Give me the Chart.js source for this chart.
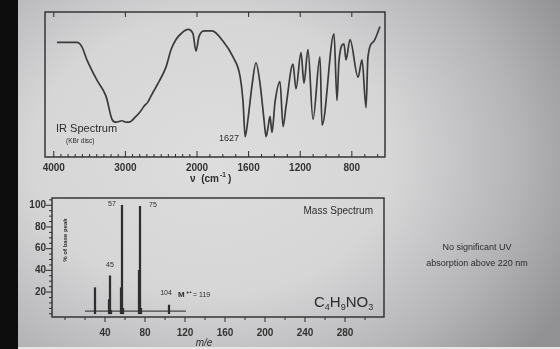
<!DOCTYPE html>
<html>
<head>
<meta charset="utf-8">
<script src="https://cdn.jsdelivr.net/npm/chart.js@4.4.1/dist/chart.umd.min.js"></script>
<style>
  html, body { margin: 0; padding: 0; }
  body {
    width: 560px; height: 349px; overflow: hidden; position: relative;
    background: radial-gradient(ellipse 72% 88% at 38% 45%, #dddddd 0%, #d6d6d7 45%, #b5b4b7 76%, #929294 100%);
    font-family: 'Liberation Sans', Arial, sans-serif;
  }
  #edge { position: absolute; left: 0; top: 0; width: 18px; height: 349px; background: #0d0d0d; }
  #foot { position: absolute; left: 18px; top: 347px; width: 542px; height: 2px; background: #e6e6e6; }
  #irWrap { position: absolute; left: 0; top: 0; width: 400px; height: 190px; filter: blur(0.3px); }
  #msWrap { position: absolute; left: 0; top: 185px; width: 400px; height: 164px; filter: blur(0.3px); }
  #uv {
    position: absolute; left: 405px; top: 239px; width: 144px; text-align: center;
    font-family: 'Liberation Sans Narrow', 'Liberation Sans', Arial, sans-serif;
    font-size: 9px; line-height: 16px; color: #2a2a2a; filter: blur(0.3px);
  }
</style>
</head>
<body>
<div id="edge"></div>
<div id="irWrap"><canvas id="irChart"></canvas></div>
<div id="msWrap"><canvas id="msChart"></canvas></div>
<div id="uv">No significant UV<br>absorption above 220 nm</div>
<div id="foot"></div>
<script>
// IR spectrum (wavenumber cm-1, transmittance %)
const irWavenumber = [3956, 3676, 3607, 3537, 3397, 3271, 3187, 3132, 3048, 2992, 2950, 2852, 2796, 2740,
  2685, 2643, 2587, 2531, 2433, 2363, 2293, 2224, 2126, 2056, 2014, 1985, 1938, 1884, 1799, 1721, 1667,
  1643, 1627, 1605, 1574, 1543, 1512, 1481, 1465, 1450, 1434, 1419, 1395, 1357, 1333, 1310, 1256, 1233,
  1194, 1171, 1140, 1101, 1047, 1031, 938, 915, 900, 861, 845, 814, 752, 721, 690, 675, 628, 582];
const irTransmittance = [79, 79, 76, 67, 53, 42, 26, 24, 25, 24, 24, 28, 31, 35,
  38, 42, 47, 52, 62, 74, 81, 85, 88, 85, 73, 83, 87, 87, 80, 69, 56,
  38, 14, 26, 49, 65, 51, 26, 14, 20, 28, 17, 38, 52, 21, 35, 64, 47,
  72, 51, 74, 26, 69, 22, 85, 39, 66, 78, 67, 81, 55, 67, 34, 69, 80, 90];
const irTickLabels = [4000, 3000, 2000, 1600, 1200, 800];

// mass spectrum (m/e, % of base peak)
const msMass = [30, 44, 45, 46, 56, 57, 58, 74, 75, 76, 104];
const msIntensity = [24, 13, 35, 3, 24, 100, 5, 40, 99, 5, 8];
const msTickLabels = [40, 80, 120, 160, 200, 240, 280];
const msPercentTicks = [20, 40, 60, 80, 100];
const msScanRange = [20, 121];

const INK = '#2c2c2c';
const NARROW = "'Liberation Sans Narrow', 'Liberation Sans', Arial, sans-serif";

// the IR axis is compressed above 2000 cm-1
const SPLIT = 2000, SQUEEZE = 0.555;
function toAxis(v) { return v <= SPLIT ? v : SPLIT + (v - SPLIT) * SQUEEZE; }
function fromAxis(u) { return u <= SPLIT ? u : SPLIT + (u - SPLIT) / SQUEEZE; }

function text(ctx, s, x, y, font, align) {
  ctx.font = font;
  ctx.textAlign = align || 'left';
  ctx.textBaseline = 'middle';
  ctx.fillText(s, x, y);
}

const irDecor = {
  id: 'irDecor',
  afterDraw(chart) {
    const { ctx, chartArea: a, scales: { x } } = chart;
    ctx.save();
    ctx.strokeStyle = INK;
    ctx.fillStyle = INK;
    ctx.lineWidth = 1.4;
    ctx.strokeRect(a.left, a.top, a.right - a.left, a.bottom - a.top);
    ctx.lineWidth = 1;
    for (let v = 4000; v >= 600; v -= 100) {
      const px = x.getPixelForValue(toAxis(v));
      const major = irTickLabels.includes(v);
      ctx.beginPath();
      ctx.moveTo(px, a.bottom);
      ctx.lineTo(px, a.bottom - (major ? 6 : 3));
      if (major) {
        ctx.moveTo(px, a.top);
        ctx.lineTo(px, a.top + 5);
      }
      ctx.stroke();
    }
    text(ctx, 'IR Spectrum', 56, 129, '11px ' + NARROW);
    text(ctx, '(KBr disc)', 66, 141, '6.5px ' + NARROW);
    text(ctx, '1627', 229, 139, '9px ' + NARROW, 'center');
    text(ctx, 'ν  (cm', 219, 179, 'bold 10px ' + NARROW, 'right');
    text(ctx, '-1', 220, 175, 'bold 6.5px ' + NARROW);
    text(ctx, ')', 228, 179, 'bold 10px ' + NARROW);
    ctx.restore();
  }
};

new Chart(document.getElementById('irChart').getContext('2d'), {
  type: 'line',
  data: {
    datasets: [{
      data: irWavenumber.map((v, i) => ({ x: toAxis(v), y: irTransmittance[i] })),
      borderColor: '#3a3a3a',
      borderWidth: 1.7,
      pointRadius: 0,
      cubicInterpolationMode: 'monotone',
      fill: false
    }]
  },
  options: {
    responsive: true,
    maintainAspectRatio: false,
    animation: false,
    layout: { padding: { left: 45, right: 15, top: 12, bottom: 0 } },
    plugins: { legend: { display: false }, tooltip: { enabled: false } },
    scales: {
      x: {
        type: 'linear', reverse: true, min: 543, max: 3178,
        afterBuildTicks: s => { s.ticks = irTickLabels.map(v => ({ value: toAxis(v) })); },
        afterFit: s => { s.height = 33; },
        ticks: {
          autoSkip: false, maxRotation: 0, padding: 5, color: '#333',
          font: { family: NARROW, size: 10, weight: 'bold' },
          callback: u => String(Math.round(fromAxis(u)))
        },
        grid: { display: true, drawOnChartArea: false, drawTicks: false },
        border: { display: false }
      },
      y: { display: false, min: 0, max: 100 }
    }
  },
  plugins: [irDecor]
});

const msDecor = {
  id: 'msDecor',
  afterDraw(chart) {
    const { ctx, chartArea: a, scales: { x, y } } = chart;
    ctx.save();
    ctx.strokeStyle = INK;
    ctx.fillStyle = INK;
    ctx.lineWidth = 1.4;
    ctx.strokeRect(a.left, a.top, a.right - a.left, a.bottom - a.top);
    ctx.lineWidth = 1;
    ctx.beginPath();
    for (let m = 0; m <= 310; m += 20) {
      const px = x.getPixelForValue(m);
      ctx.moveTo(px, a.bottom);
      ctx.lineTo(px, a.bottom + (msTickLabels.includes(m) ? 5 : 3));
    }
    for (let p = 0; p <= 105; p += 5) {
      const py = y.getPixelForValue(p);
      ctx.moveTo(a.left, py);
      ctx.lineTo(a.left - (msPercentTicks.includes(p) ? 6 : 3), py);
    }
    ctx.stroke();

    const lab = '7px ' + NARROW;
    text(ctx, '57', 112, 19, lab, 'center');
    text(ctx, '75', 153, 20, lab, 'center');
    text(ctx, '45', 110, 80, lab, 'center');
    text(ctx, '104', 166, 108, lab, 'center');
    text(ctx, 'M', 178, 110, 'bold 8px ' + NARROW);
    text(ctx, '+•', 186, 107, 'bold 6px ' + NARROW);
    text(ctx, '= 119', 193, 110, '7px ' + NARROW);
    text(ctx, 'Mass Spectrum', 373, 26, '10px ' + NARROW, 'right');

    // molecular formula with subscripts
    let fx = 314;
    const parts = [['C', 0], ['4', 1], ['H', 0], ['9', 1], ['NO', 0], ['3', 1]];
    ctx.textBaseline = 'alphabetic';
    ctx.textAlign = 'left';
    for (const [s, sub] of parts) {
      ctx.font = sub ? '9px ' + NARROW : '15px ' + NARROW;
      ctx.fillText(s, fx, sub ? 125 : 122);
      fx += ctx.measureText(s).width;
    }

    ctx.save();
    ctx.translate(65, 55);
    ctx.rotate(-Math.PI / 2);
    text(ctx, '% of base peak', 0, 0, 'bold 6px ' + NARROW, 'center');
    ctx.restore();

    text(ctx, 'm/e', 204, 158, 'italic 10px ' + NARROW, 'center');
    ctx.restore();
  }
};

new Chart(document.getElementById('msChart').getContext('2d'), {
  data: {
    datasets: [{
      type: 'bar',
      data: msMass.map((m, i) => ({ x: m, y: msIntensity[i] })),
      backgroundColor: '#2e2e2e',
      barThickness: 1.6
    }, {
      type: 'line',
      data: msScanRange.map(m => ({ x: m, y: 2.5 })),
      borderColor: '#444',
      borderWidth: 1.2,
      pointRadius: 0
    }]
  },
  options: {
    responsive: true,
    maintainAspectRatio: false,
    animation: false,
    layout: { padding: { left: 0, right: 16, top: 13, bottom: 0 } },
    plugins: { legend: { display: false }, tooltip: { enabled: false } },
    scales: {
      x: {
        type: 'linear', min: -13, max: 319, offset: false,
        afterBuildTicks: s => { s.ticks = msTickLabels.map(v => ({ value: v })); },
        afterFit: s => { s.height = 32; },
        ticks: {
          autoSkip: false, maxRotation: 0, padding: 10, color: '#333',
          font: { family: NARROW, size: 10, weight: 'bold' }
        },
        grid: { display: true, drawOnChartArea: false, drawTicks: false },
        border: { display: false }
      },
      y: {
        type: 'linear', min: -3, max: 106.7,
        afterBuildTicks: s => { s.ticks = msPercentTicks.map(v => ({ value: v })); },
        afterFit: s => { s.width = 52; },
        ticks: {
          autoSkip: false, padding: 6, color: '#333',
          font: { family: NARROW, size: 10, weight: 'bold' }
        },
        grid: { display: true, drawOnChartArea: false, drawTicks: false },
        border: { display: false }
      }
    }
  },
  plugins: [msDecor]
});
</script>
</body>
</html>
